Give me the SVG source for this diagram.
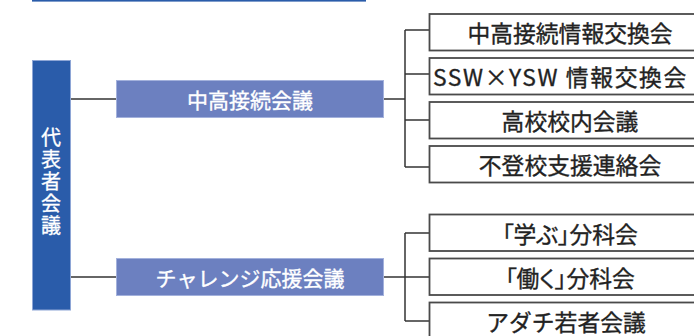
<svg xmlns="http://www.w3.org/2000/svg" width="694" height="336" viewBox="0 0 694 336">
<style>
.jp{font-family:"Noto Sans CJK JP","Noto Sans CJK SC",sans-serif;}
.main{fill:#2a5caa;stroke:#8ea6d6;stroke-width:1;}
.mid{fill:#6c80c0;stroke:#a3b1dc;stroke-width:1;}
.sub{fill:#ffffff;stroke:#4a4a4a;stroke-width:1.8;}
.wt{fill:#ffffff;stroke:#ffffff;stroke-width:0.35;font-size:21px;}
.vt{fill:#ffffff;stroke:#ffffff;stroke-width:0.3;font-size:20px;letter-spacing:2px;}
.bt{fill:#222222;stroke:#222222;stroke-width:0.35;font-size:22.8px;}
.palt{font-feature-settings:"palt";}
.lg{stroke:#666666;stroke-width:2;fill:none;}
.ln{stroke:#333333;stroke-width:1.5;fill:none;}
</style>
<rect x="32" y="0" width="334" height="1.6" fill="#2a5caa"/>
<g id="connectors">
<line class="lg" x1="71" y1="99" x2="116" y2="99"/>
<line class="lg" x1="71" y1="277" x2="116" y2="277"/>
<line class="ln" x1="384" y1="99" x2="405" y2="99"/>
<line class="ln" x1="405" y1="30" x2="405" y2="167"/>
<line class="ln" x1="405" y1="30" x2="429" y2="30"/>
<line class="ln" x1="405" y1="74" x2="429" y2="74"/>
<line class="ln" x1="405" y1="120" x2="429" y2="120"/>
<line class="ln" x1="405" y1="167" x2="429" y2="167"/>
<line class="ln" x1="384" y1="277" x2="429" y2="277"/>
<line class="ln" x1="405" y1="233" x2="405" y2="321"/>
<line class="ln" x1="405" y1="233" x2="429" y2="233"/>
<line class="ln" x1="405" y1="321" x2="429" y2="321"/>
</g>
<g id="daihyosha">
<rect class="main" x="32.5" y="60.5" width="38" height="249.5"/>
<text class="jp vt" x="51" y="127" writing-mode="vertical-rl">代表者会議</text>
</g>
<g id="chuko">
<rect class="mid" x="116.5" y="80.5" width="267" height="37"/>
<text class="jp wt" x="250" y="99" text-anchor="middle" dominant-baseline="central">中高接続会議</text>
</g>
<g id="challenge">
<rect class="mid" x="116.5" y="258.5" width="267" height="37"/>
<text class="jp wt" x="250" y="277" text-anchor="middle" dominant-baseline="central">チャレンジ応援会議</text>
</g>
<g id="sub1">
<rect class="sub" x="429.5" y="14" width="290" height="36.5"/>
<text class="jp bt" x="570" y="32.5" text-anchor="middle" dominant-baseline="central">中高接続情報交換会</text>
</g>
<g id="sub2">
<rect class="sub" x="429.5" y="58" width="290" height="36.5"/>
<text class="jp bt" x="433" y="76.5" dominant-baseline="central" letter-spacing="1.6">SSW×YSW 情報交換会</text>
</g>
<g id="sub3">
<rect class="sub" x="429.5" y="102" width="290" height="36.5"/>
<text class="jp bt" x="570" y="120.5" text-anchor="middle" dominant-baseline="central">高校校内会議</text>
</g>
<g id="sub4">
<rect class="sub" x="429.5" y="146" width="290" height="36.5"/>
<text class="jp bt" x="570" y="164.5" text-anchor="middle" dominant-baseline="central">不登校支援連絡会</text>
</g>
<g id="sub5">
<rect class="sub" x="429.5" y="214.5" width="290" height="36.5"/>
<text class="jp bt palt" x="570" y="233" text-anchor="middle" dominant-baseline="central">「学ぶ」分科会</text>
</g>
<g id="sub6">
<rect class="sub" x="429.5" y="258.5" width="290" height="36.5"/>
<text class="jp bt palt" x="570" y="277" text-anchor="middle" dominant-baseline="central">「働く」分科会</text>
</g>
<g id="sub7">
<rect class="sub" x="429.5" y="302.5" width="290" height="36.5"/>
<text class="jp bt" x="566" y="321" text-anchor="middle" dominant-baseline="central">アダチ若者会議</text>
</g>
</svg>
